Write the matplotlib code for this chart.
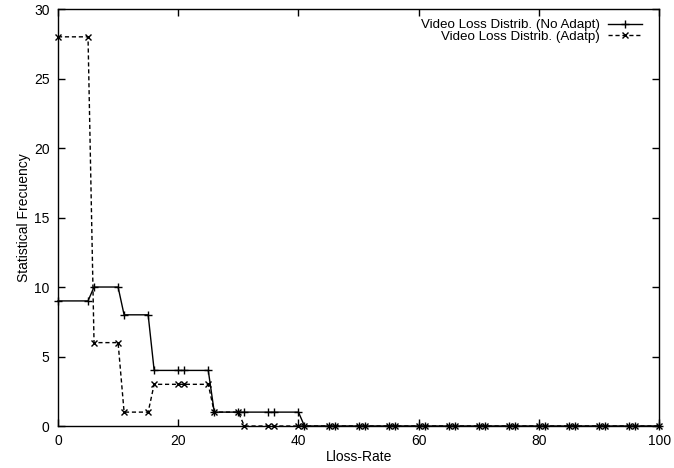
import matplotlib
matplotlib.use("Agg")
import matplotlib.pyplot as plt

plt.rcParams['font.family'] = ['Liberation Sans', 'DejaVu Sans']

loss_rate_no_adapt = [0, 5, 6, 10, 11, 15, 16, 20, 21, 25, 26, 30, 31, 35, 36, 40, 41,
                      45, 46, 50, 51, 55, 56, 60, 61, 65, 66, 70, 71, 75, 76, 80, 81,
                      85, 86, 90, 91, 95, 96, 100]
freq_no_adapt = [9, 9, 10, 10, 8, 8, 4, 4, 4, 4, 1, 1, 1, 1, 1, 1, 0,
                 0, 0, 0, 0, 0, 0, 0, 0, 0, 0, 0, 0, 0, 0, 0, 0,
                 0, 0, 0, 0, 0, 0, 0]

loss_rate_adapt = [0, 5, 6, 10, 11, 15, 16, 20, 21, 25, 26, 30, 31, 35, 36, 40, 41,
                   45, 46, 50, 51, 55, 56, 60, 61, 65, 66, 70, 71, 75, 76, 80, 81,
                   85, 86, 90, 91, 95, 96, 100]
freq_adapt = [28, 28, 6, 6, 1, 1, 3, 3, 3, 3, 1, 1, 0, 0, 0, 0, 0,
              0, 0, 0, 0, 0, 0, 0, 0, 0, 0, 0, 0, 0, 0, 0, 0,
              0, 0, 0, 0, 0, 0, 0]

x_ticks = [0, 20, 40, 60, 80, 100]
y_ticks = [0, 5, 10, 15, 20, 25, 30]

fig = plt.figure(figsize=(6.74, 4.68), dpi=100)
ax = fig.add_axes([0.086, 0.0897, 0.892, 0.891])

ax.plot(loss_rate_no_adapt, freq_no_adapt, color='black', linewidth=1.0,
        marker='+', markersize=6, markeredgewidth=1.0,
        label='Video Loss Distrib. (No Adapt)', clip_on=False)
ax.plot(loss_rate_adapt, freq_adapt, color='black', linewidth=1.0,
        linestyle=(0, (3, 2)), marker='x', markersize=5, markeredgewidth=1.0,
        label='Video Loss Distrib. (Adatp)', clip_on=False)

ax.set_xlim(0, 100)
ax.set_ylim(0, 30)
ax.set_xticks(x_ticks)
ax.set_yticks(y_ticks)
ax.tick_params(direction='in', top=True, right=True, length=5, width=1,
               labelsize=10, pad=6)
for s in ax.spines.values():
    s.set_linewidth(1.0)

ax.set_xlabel('Lloss-Rate', fontsize=10, labelpad=1)
ax.set_ylabel('Statistical Frecuency', fontsize=10, labelpad=2.5)

ax.legend(loc='upper right', frameon=False, markerfirst=False, fontsize=9.6,
          handlelength=2.6, handletextpad=0.6, labelspacing=-0.08,
          borderpad=0.0, borderaxespad=0.0,
          bbox_to_anchor=(0.972, 0.976))

fig.savefig('out.png', dpi=100)
